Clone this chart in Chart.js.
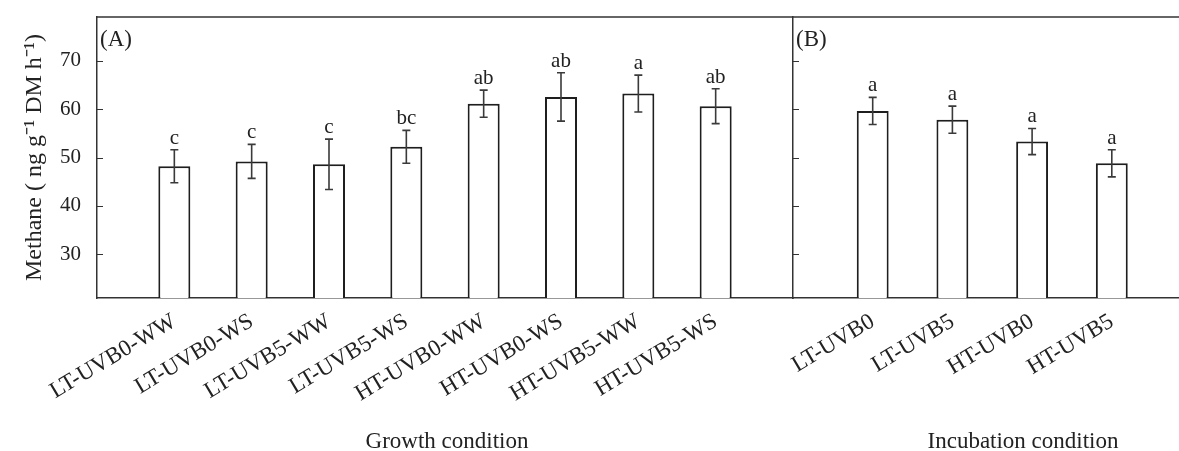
<!DOCTYPE html>
<html>
<head>
<meta charset="utf-8">
<script src="https://cdn.jsdelivr.net/npm/chart.js@4/dist/chart.umd.min.js"></script>
<style>
  body { margin: 0; background: #fff; overflow: hidden; width: 1179px; height: 451px; position: relative; }
  canvas { position: absolute; top: 0; }
  #cA { left: 0; }
  #cB { left: 783px; }
</style>
</head>
<body>
<canvas id="cA" width="800" height="451"></canvas>
<canvas id="cB" width="420" height="451"></canvas>
<script>
var growthLabels = ['LT-UVB0-WW', 'LT-UVB0-WS', 'LT-UVB5-WW', 'LT-UVB5-WS', 'HT-UVB0-WW', 'HT-UVB0-WS', 'HT-UVB5-WW', 'HT-UVB5-WS'];
var growthMean = [48.2, 49.2, 48.6, 52.2, 61.1, 62.5, 63.2, 60.6];
var growthErr = [3.4, 3.5, 5.2, 3.4, 2.8, 5.0, 3.8, 3.6];
var growthLetters = ['c', 'c', 'c', 'bc', 'ab', 'ab', 'a', 'ab'];

var incubLabels = ['LT-UVB0', 'LT-UVB5', 'HT-UVB0', 'HT-UVB5'];
var incubMean = [59.6, 57.8, 53.3, 48.8];
var incubErr = [2.8, 2.8, 2.7, 2.8];
var incubLetters = ['a', 'a', 'a', 'a'];

var yTicks = [30, 40, 50, 60, 70];
var yMin = 21, yMax = 79;

var serif = "'Liberation Serif', 'Times New Roman', serif";
var ink = '#222';

// pad one empty slot on each side so the bars sit at 1..n
function padded(arr, blank) { return [blank].concat(arr).concat([blank]); }

// error bars, letters, inward ticks, top line, panel tag, axis caption
var decor = {
    id: 'decor',
    afterDatasetsDraw: function (chart) {
        var o = chart.options.plugins.decor;
        var ctx = chart.ctx, xs = chart.scales.x, ys = chart.scales.y, area = chart.chartArea;
        ctx.save();
        ctx.strokeStyle = '#3a3a3a';
        ctx.lineWidth = 1.6;
        ctx.fillStyle = ink;
        ctx.font = '21px ' + serif;
        ctx.textAlign = 'center';
        ctx.textBaseline = 'alphabetic';
        o.mean.forEach(function (m, i) {
            var x = xs.getPixelForValue(i + 1);
            var yt = ys.getPixelForValue(m + o.err[i]);
            var yb = ys.getPixelForValue(m - o.err[i]);
            ctx.beginPath();
            ctx.moveTo(x, yt); ctx.lineTo(x, yb);
            ctx.moveTo(x - 4, yt); ctx.lineTo(x + 4, yt);
            ctx.moveTo(x - 4, yb); ctx.lineTo(x + 4, yb);
            ctx.stroke();
            ctx.fillText(o.letters[i], x, yt - 6);
        });
        // inward y ticks
        ctx.strokeStyle = '#333';
        ctx.lineWidth = 1;
        yTicks.forEach(function (v) {
            var y = Math.round(ys.getPixelForValue(v)) + 0.5;
            ctx.beginPath();
            ctx.moveTo(area.left, y); ctx.lineTo(area.left + 6, y);
            ctx.stroke();
        });
        // top frame line
        ctx.strokeStyle = '#333';
        ctx.lineWidth = 1.5;
        ctx.beginPath();
        ctx.moveTo(area.left, area.top); ctx.lineTo(area.right, area.top);
        ctx.stroke();
        // panel tag
        ctx.font = '23px ' + serif;
        ctx.textAlign = 'left';
        ctx.textBaseline = 'top';
        ctx.fillText(o.tag, area.left + 3, 28);
        // axis caption
        ctx.textAlign = 'center';
        ctx.textBaseline = 'alphabetic';
        ctx.fillText(o.caption, o.captionX, 448);
        ctx.restore();
    }
};

function xScale(labels) {
    return {
        type: 'category',
        labels: padded(labels, ''),
        offset: false,
        grid: { display: false, drawTicks: false },
        border: { display: true, color: '#333', width: 1.5 },
        ticks: {
            autoSkip: false, minRotation: 31, maxRotation: 31, padding: 10, labelOffset: 0,
            color: ink, font: { family: serif, size: 23 }
        },
        afterFit: function (s) { s.height = 451 - 298; s.paddingLeft = 0; s.paddingRight = 0; }
    };
}

function yScale(showLabels) {
    return {
        min: yMin, max: yMax,
        afterBuildTicks: function (s) { s.ticks = yTicks.map(function (v) { return { value: v }; }); },
        grid: { display: false, drawTicks: false },
        border: { display: true, color: '#333', width: 1.5 },
        ticks: { display: showLabels, padding: 16, color: ink, font: { family: serif, size: 21 } },
        title: {
            display: showLabels, text: 'Methane ( ng g\u207B\u00B9 DM h\u207B\u00B9)',
            color: ink, font: { family: serif, size: 24 }, padding: { top: 20, bottom: 0 }
        },
        afterFit: function (s) { s.width = showLabels ? 97 : 0; s.paddingTop = 0; s.paddingBottom = 0; }
    };
}

function barSet(mean, pct) {
    return [{
        data: padded(mean, null),
        backgroundColor: '#fff',
        borderColor: '#1e1e1e',
        borderWidth: 2,
        categoryPercentage: 1,
        barPercentage: pct
    }];
}

new Chart(document.getElementById('cA'), {
    type: 'bar',
    data: { labels: padded(growthLabels, ''), datasets: barSet(growthMean, 0.414) },
    options: {
        responsive: false, animation: false, devicePixelRatio: 1,
        layout: { padding: { left: 0, right: 7, top: 17, bottom: 0 } },
        scales: { x: xScale(growthLabels), y: yScale(true) },
        plugins: {
            legend: { display: false }, tooltip: { enabled: false },
            decor: { mean: growthMean, err: growthErr, letters: growthLetters, tag: '(A)', caption: 'Growth condition', captionX: 447 }
        }
    },
    plugins: [decor]
});

new Chart(document.getElementById('cB'), {
    type: 'bar',
    data: { labels: padded(incubLabels, ''), datasets: barSet(incubMean, 0.40) },
    options: {
        responsive: false, animation: false, devicePixelRatio: 1,
        layout: { padding: { left: 10, right: 11.5, top: 17, bottom: 0 } },
        scales: { x: xScale(incubLabels), y: yScale(false) },
        plugins: {
            legend: { display: false }, tooltip: { enabled: false },
            decor: { mean: incubMean, err: incubErr, letters: incubLetters, tag: '(B)', caption: 'Incubation condition', captionX: 240 }
        }
    },
    plugins: [decor]
});
</script>
</body>
</html>
